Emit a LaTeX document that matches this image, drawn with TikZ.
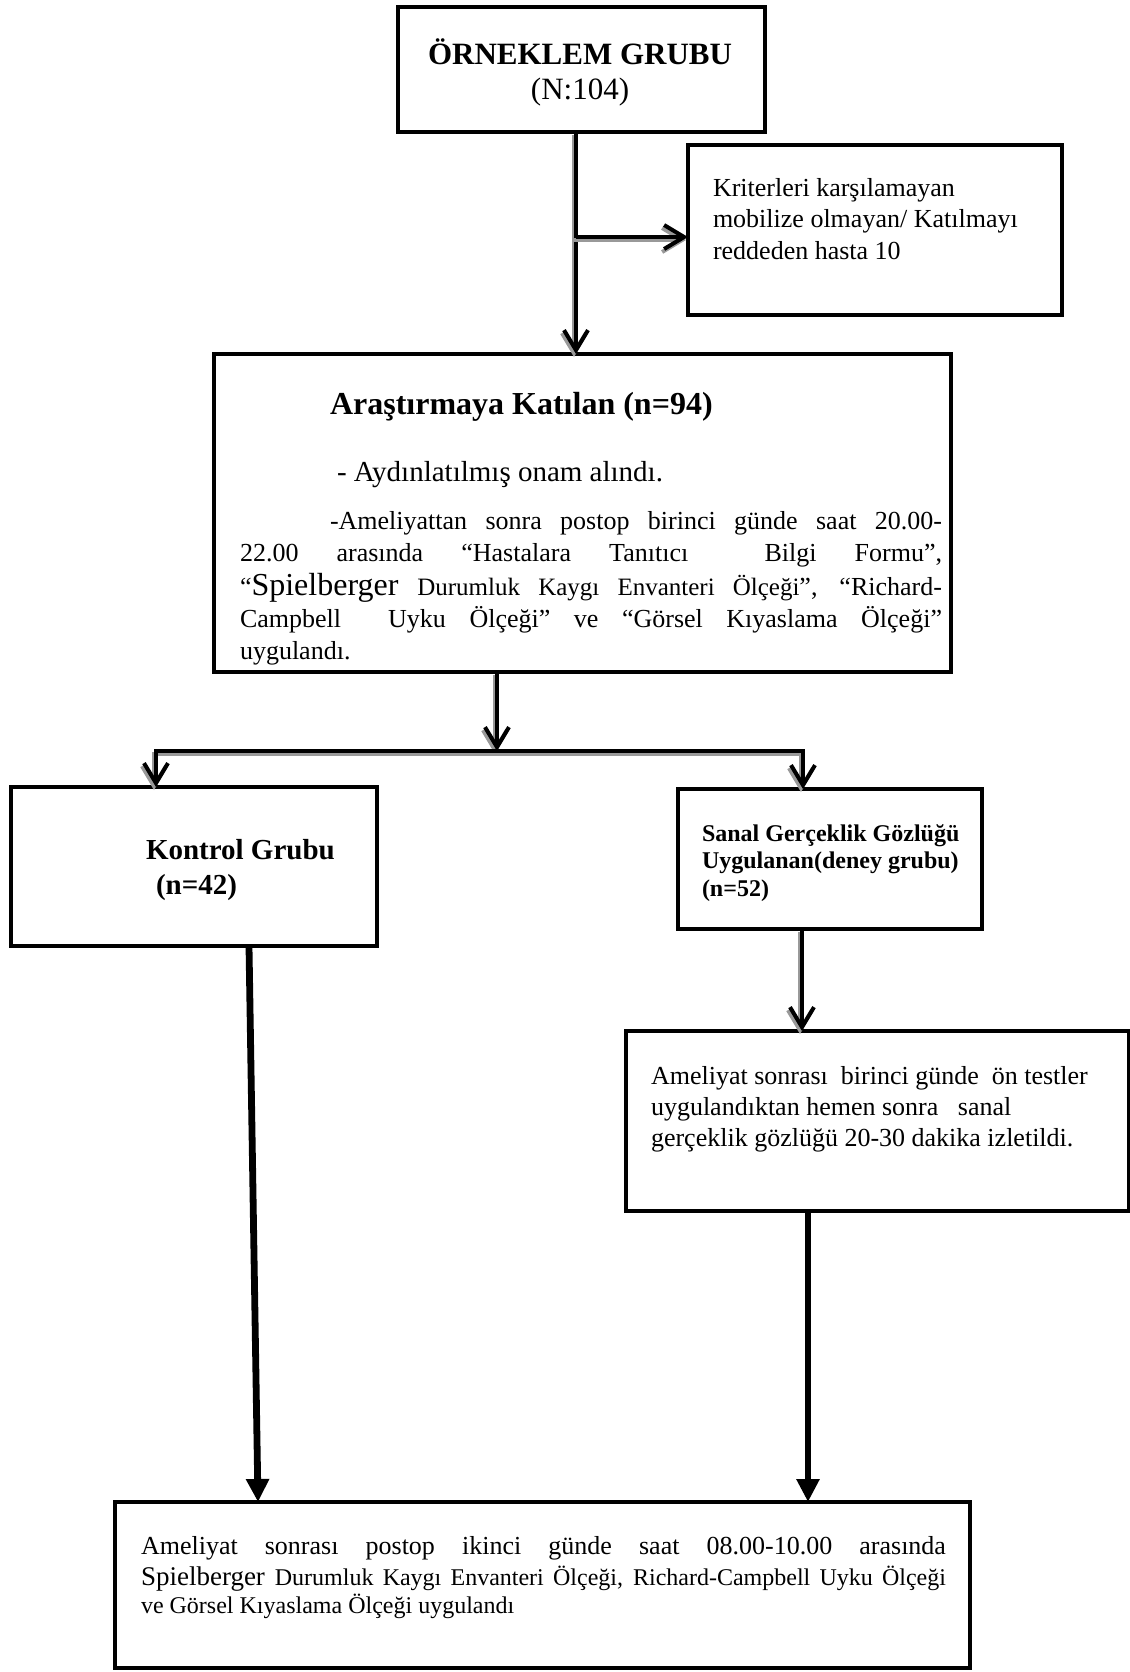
\documentclass[tikz,border=0pt]{standalone}
\usepackage{fontspec}
\setmainfont{Liberation Serif}
\usetikzlibrary{arrows.meta,positioning}
\tikzset{
  every picture/.style = {
    x = 0.5pt,
    y = -0.5pt,
    line width = 2pt,
  }
  ,
  box/.style = {
    rectangle,
    draw,
    line width = 2.4pt,
    anchor = north west,
    inner sep = 0pt,
    outer sep = 0pt
  }
  , % texts inside the boxes
  label-box/.style = {
    anchor = base west,
    inner sep = 0pt,
    font = \fontsize{13}{16}\selectfont
  }
  , % open arrows, with a grey shadow
  arrow-open/.style = {
    -{Straight Barb[length=10pt, width=12pt]},
    preaction = {
      draw = black!40,
      transform canvas = {shift = {(-1pt,-1.5pt)}}
    }
  }
  , % thick arrows into the last box
  arrow-full/.style = {
    line width = 3.4pt,
    -{Triangle[length=11.5pt, width=11pt]}
  }
}

\begin{document}
\begin{tikzpicture}
    \useasboundingbox (0,0) rectangle (1130,1672);

    % boxes
    \node [box, minimum width = 183.5pt, minimum height = 62.5pt] (orneklem) at (398,7) {};
    \node [box, minimum width = 187pt, minimum height = 85pt] (ret) at (688,145) {};
    \node [box, minimum width = 368.5pt, minimum height = 159pt] (katilan) at (214,354) {};
    \node [box, minimum width = 183pt, minimum height = 79.5pt] (kontrol) at (11,787) {};
    \node [box, minimum width = 152pt, minimum height = 70pt] (sanal) at (678,789) {};
    \node [box, minimum width = 251.5pt, minimum height = 90pt] (izlet) at (626,1031) {};
    \node [box, minimum width = 427.5pt, minimum height = 83pt] (son) at (115,1502) {};

    % texts
    \node [label-box, anchor = base, font = \fontsize{15.5}{18}\selectfont\bfseries] (orneklem-title) at (580,64) {ÖRNEKLEM GRUBU};
    \node [label-box, anchor = base, font = \fontsize{15.5}{18}\selectfont] (orneklem-n) at (580,99) {(N:104)};

    \node [label-box, font = \fontsize{13}{15.75}\selectfont] (ret-text) at (711,196)
        {\parbox[t]{180pt}{\raggedright Kriterleri karşılamayan\\ mobilize olmayan/ Katılmayı\\ reddeden hasta 10}};

    \node [label-box, font = \fontsize{16}{19}\selectfont\bfseries] (katilan-title) at (328,414) {Araştırmaya Katılan (n=94)};
    \node [label-box, font = \fontsize{14.5}{17}\selectfont] (katilan-onam) at (335,481) {- Aydınlatılmış onam alındı.};
    \node [label-box] (katilan-text) at (238,529)
        {\parbox[t]{351pt}{%
        \makebox[\linewidth][s]{\hspace*{45pt}-Ameliyattan sonra postop birinci günde saat 20.00-}\\
        \makebox[\linewidth][s]{22.00 arasında “Hastalara Tanıtıcı\ \ Bilgi Formu”,}\\[1pt]
        \makebox[\linewidth][s]{“{\fontsize{16}{16}\selectfont Spielberger} {\fontsize{12.5}{16}\selectfont Durumluk Kaygı Envanteri Ölçeği}”, “Richard-}\\
        \makebox[\linewidth][s]{Campbell\ \ Uyku Ölçeği” ve “Görsel Kıyaslama Ölçeği”}\\
        uygulandı.}};

    \node [label-box, font = \fontsize{14.5}{17.5}\selectfont\bfseries] (kontrol-text) at (144,859)
        {\parbox[t]{160pt}{Kontrol Grubu\\\hspace*{5pt}(n=42)}};

    \node [label-box, font = \fontsize{12}{13.75}\selectfont\bfseries] (sanal-text) at (700,841)
        {\parbox[t]{140pt}{Sanal Gerçeklik Gözlüğü\\ Uygulanan(deney grubu)\\ (n=52)}};

    \node [label-box, font = \fontsize{13}{15.5}\selectfont] (izlet-text) at (649,1084)
        {\parbox[t]{235pt}{Ameliyat sonrası\ \ birinci günde\ \ ön testler\\ uygulandıktan hemen sonra\ \ \ sanal\\ gerçeklik gözlüğü 20-30 dakika izletildi.}};

    \node [label-box, font = \fontsize{13}{15.5}\selectfont] (son-text) at (139,1554)
        {\parbox[t]{402.5pt}{%
        \makebox[\linewidth][s]{Ameliyat sonrası postop ikinci günde saat 08.00-10.00 arasında}\\
        \makebox[\linewidth][s]{{\fontsize{13.5}{16}\selectfont Spielberger} {\fontsize{12}{16}\selectfont Durumluk Kaygı Envanteri Ölçeği, Richard-Campbell Uyku Ölçeği}}\\[-1.5pt]
        {\fontsize{12}{16}\selectfont ve Görsel Kıyaslama Ölçeği uygulandı}}};

    % connectors
    \coordinate (split) at (576,237);
    \coordinate (fork) at (497,751);
    \coordinate (fork-l) at (156,751);
    \coordinate (fork-r) at (803,751);
    \coordinate (s-out) at (802,929);
    \coordinate (k-out) at (249,946);
    \coordinate (k-in) at (258,1502);
    \coordinate (i-out) at (808,1211);

    \draw [arrow-open] (orneklem.south -| split) -- (katilan.north -| split);
    \draw [arrow-open] (split) -- (ret.west |- split);
    \draw [arrow-open] (katilan.south -| fork) -- (fork);
    \draw [arrow-open, {Straight Barb[length=10pt, width=12pt]}-{Straight Barb[length=10pt, width=12pt]}]
        (kontrol.north -| fork-l) -- (fork-l) -- (fork-r) -- (sanal.north -| fork-r);
    \draw [arrow-open] (sanal.south -| s-out) -- (izlet.north -| s-out);
    \draw [arrow-full] (kontrol.south -| k-out) -- (son.north -| k-in);
    \draw [arrow-full] (izlet.south -| i-out) -- (son.north -| i-out);
\end{tikzpicture}
\end{document}
